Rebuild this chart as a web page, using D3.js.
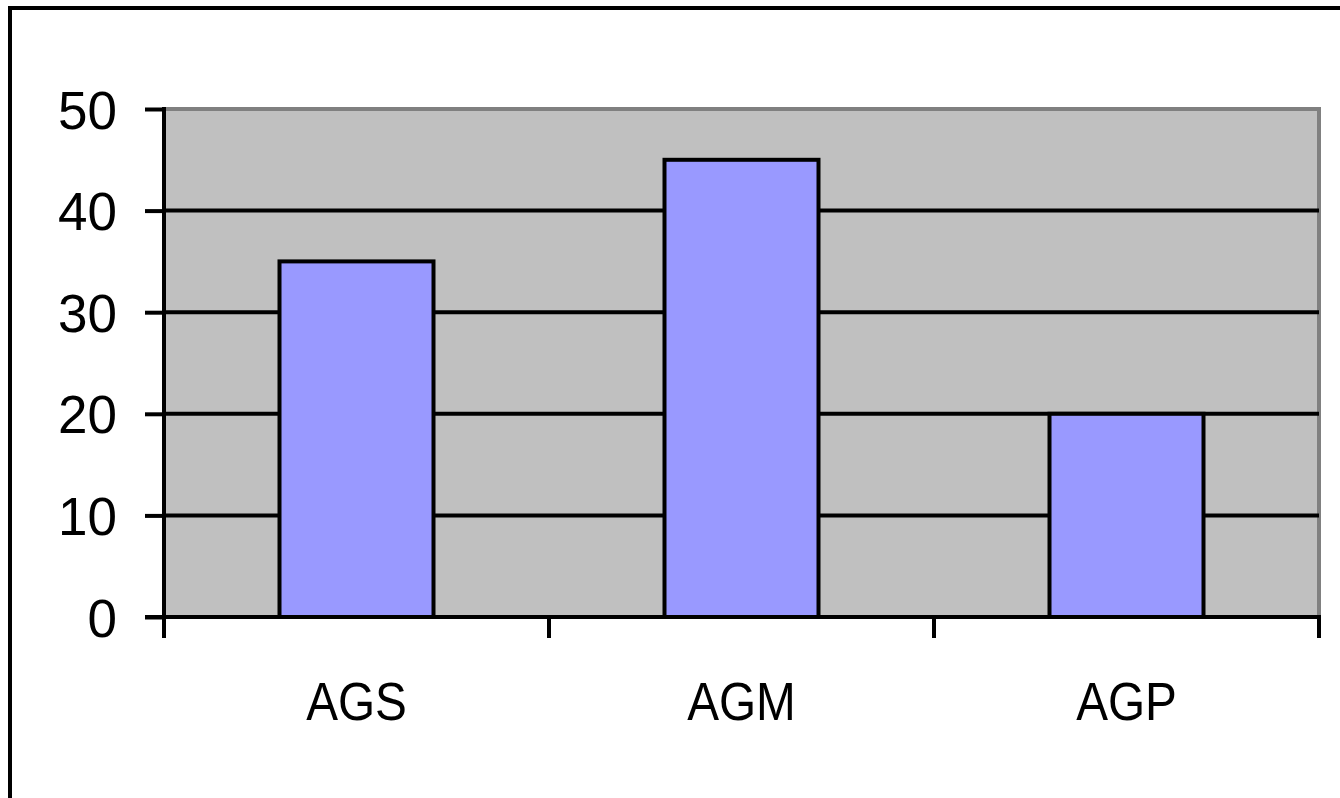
<!DOCTYPE html>
<html>
<head>
<meta charset="utf-8">
<script src="https://cdn.jsdelivr.net/npm/d3@7"></script>
<style>
  body { margin: 0; background: #fff; }
  svg { display: block; }
  text { font-family: "Liberation Sans", Arial, sans-serif; fill: #000; }
</style>
</head>
<body>
<div id="chart"></div>
<script>
// chart data
const categories = ["AGS", "AGM", "AGP"];
const values = [35, 45, 20];
const yTicks = [0, 10, 20, 30, 40, 50];

const W = 1340, H = 798;
const plot = { left: 164, top: 109, right: 1319, bottom: 617 };

var svg = d3.select("#chart").append("svg").attr("width", W).attr("height", H);

// outer frame (runs off the right/bottom edge)
svg.append("rect")
  .attr("x", 10).attr("y", 8)
  .attr("width", 1400).attr("height", 900)
  .attr("fill", "#fff")
  .attr("stroke", "#000")
  .attr("stroke-width", 4);

var x = d3.scaleBand()
  .domain(categories)
  .range([plot.left, plot.right])
  .paddingInner(0.6)
  .paddingOuter(0.3);

var y = d3.scaleLinear().domain([0, 50]).range([plot.bottom, plot.top]);

// plot area background
svg.append("rect")
  .attr("x", plot.left).attr("y", plot.top)
  .attr("width", plot.right - plot.left)
  .attr("height", plot.bottom - plot.top)
  .attr("fill", "#c0c0c0");

// gray border on top and right
svg.append("path")
  .attr("d", `M${plot.left},${plot.top}H${plot.right}V${plot.bottom}`)
  .attr("fill", "none")
  .attr("stroke", "#808080")
  .attr("stroke-width", 4);

// gridlines
svg.append("g")
  .selectAll("line")
  .data(yTicks.filter((t) => t > 0 && t < 50))
  .enter()
  .append("line")
  .attr("x1", plot.left).attr("x2", plot.right)
  .attr("y1", (d) => y(d)).attr("y2", (d) => y(d))
  .attr("stroke", "#000")
  .attr("stroke-width", 4);

// bars
svg.append("g")
  .selectAll("rect")
  .data(values)
  .enter()
  .append("rect")
  .attr("x", (d, i) => x(categories[i]))
  .attr("y", (d) => y(d))
  .attr("width", x.bandwidth())
  .attr("height", (d) => y(0) - y(d))
  .attr("fill", "#9999ff")
  .attr("stroke", "#000")
  .attr("stroke-width", 4);

// y axis
var yAxis = d3.axisLeft(y)
  .tickValues(yTicks)
  .tickSize(19)
  .tickPadding(28)
  .tickFormat(d3.format("d"));

var gy = svg.append("g")
  .attr("transform", `translate(${plot.left},0)`)
  .call(yAxis);
gy.select(".domain").remove();
gy.selectAll(".tick line").attr("stroke", "#000").attr("stroke-width", 4);
gy.selectAll(".tick text").style("font-size", "53px").attr("dy", "0.36em");
gy.append("line")
  .attr("x1", 0).attr("x2", 0)
  .attr("y1", plot.top - 2).attr("y2", plot.bottom + 2)
  .attr("stroke", "#000")
  .attr("stroke-width", 4);

// x axis line and boundary ticks
var gx = svg.append("g");
gx.append("line")
  .attr("x1", plot.left - 19).attr("x2", plot.right + 2)
  .attr("y1", plot.bottom).attr("y2", plot.bottom)
  .attr("stroke", "#000")
  .attr("stroke-width", 4);

gx.selectAll(".bound")
  .data(d3.range(categories.length + 1))
  .enter()
  .append("line")
  .attr("class", "bound")
  .attr("x1", (i) => plot.left + i * x.step())
  .attr("x2", (i) => plot.left + i * x.step())
  .attr("y1", plot.bottom)
  .attr("y2", plot.bottom + 21)
  .attr("stroke", "#000")
  .attr("stroke-width", 4);

// category labels (slightly condensed like the original)
gx.selectAll(".cat")
  .data(categories)
  .enter()
  .append("text")
  .attr("class", "cat")
  .attr("text-anchor", "middle")
  .attr("transform", (d) => `translate(${x(d) + x.bandwidth() / 2},720) scale(0.9,1)`)
  .style("font-size", "53px")
  .text((d) => d);
</script>
</body>
</html>
